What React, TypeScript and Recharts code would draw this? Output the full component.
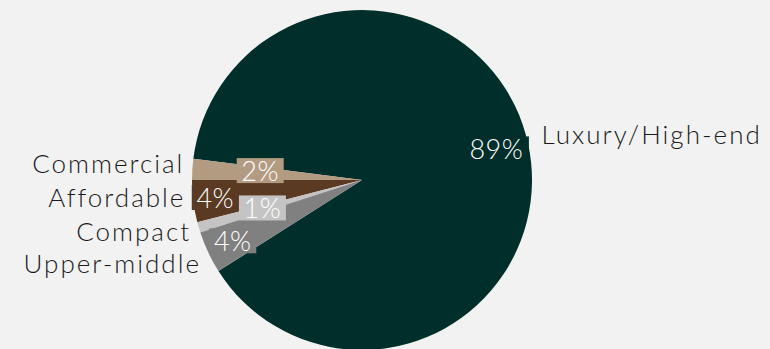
import React from "react";
import { PieChart, Pie, Cell } from "recharts";

const categories = ["Luxury/High-end", "Commercial", "Affordable", "Compact", "Upper-middle"];
const shares = [89, 2, 4, 1, 4];
const percentLabels = ["89%", "2%", "4%", "1%", "4%"];

const colors = ["#002e2a", "#b39b82", "#5a3a22", "#c4c4c4", "#808080"];
// style: radial placement of inside labels (fraction of radius) and vertical nudges for outside labels
const insideFrac = [0.81, 0.6, 0.87, 0.61, 0.84];
const insideNudge = [-1, -3, -1, -1, 0];
const outsideNudge = [-6, -6, -5, 1, 7];

const data = categories.map((name, i) => ({ name, value: shares[i], pct: percentLabels[i] }));

const RADIAN = Math.PI / 180;
const FONT = "Lato, 'Open Sans', sans-serif";

const renderLabel = (props: any) => {
  const { cx, cy, midAngle, outerRadius, index } = props;
  const cos = Math.cos(-midAngle * RADIAN);
  const sin = Math.sin(-midAngle * RADIAN);
  const ri = outerRadius * insideFrac[index];
  const ix = cx + ri * cos;
  const iy = cy + ri * sin + insideNudge[index];
  const ro = outerRadius + (cos >= 0 ? 14 : 8);
  const ox = cx + ro * cos;
  const oy = cy + ro * sin + outsideNudge[index];
  const pct = percentLabels[index];
  const w = 11 + pct.length * 18;
  const h = 25;
  return (
    <g>
      <rect x={ix - w / 2} y={iy - h / 2} width={w} height={h} fill={colors[index]} />
      <text x={ix} y={iy} fill="#ffffff" textAnchor="middle" dominantBaseline="central" fontSize={27} fontFamily={FONT} fontWeight={300} letterSpacing={0.5}>
        {pct}
      </text>
      <text x={ox} y={oy} fill="#1a1a1a" textAnchor={cos >= 0 ? "start" : "end"} dominantBaseline="central" fontSize={26} fontFamily={FONT} fontWeight={300} letterSpacing={2}>
        {categories[index]}
      </text>
    </g>
  );
};

export default function App() {
  return (
    <div style={{ position: "absolute", left: 0, top: 0, width: 770, height: 349, background: "#f2f2f2" }}>
      <PieChart width={770} height={349} margin={{ top: 0, right: 0, bottom: 0, left: 0 }}>
        <Pie
          data={data}
          dataKey="value"
          nameKey="name"
          cx={362}
          cy={180}
          outerRadius={170}
          startAngle={212.4}
          endAngle={572.4}
          stroke="none"
          label={renderLabel}
          labelLine={false}
          isAnimationActive={false}
        >
          {data.map((d, i) => (
            <Cell key={d.name} fill={colors[i]} />
          ))}
        </Pie>
      </PieChart>
    </div>
  );
}
